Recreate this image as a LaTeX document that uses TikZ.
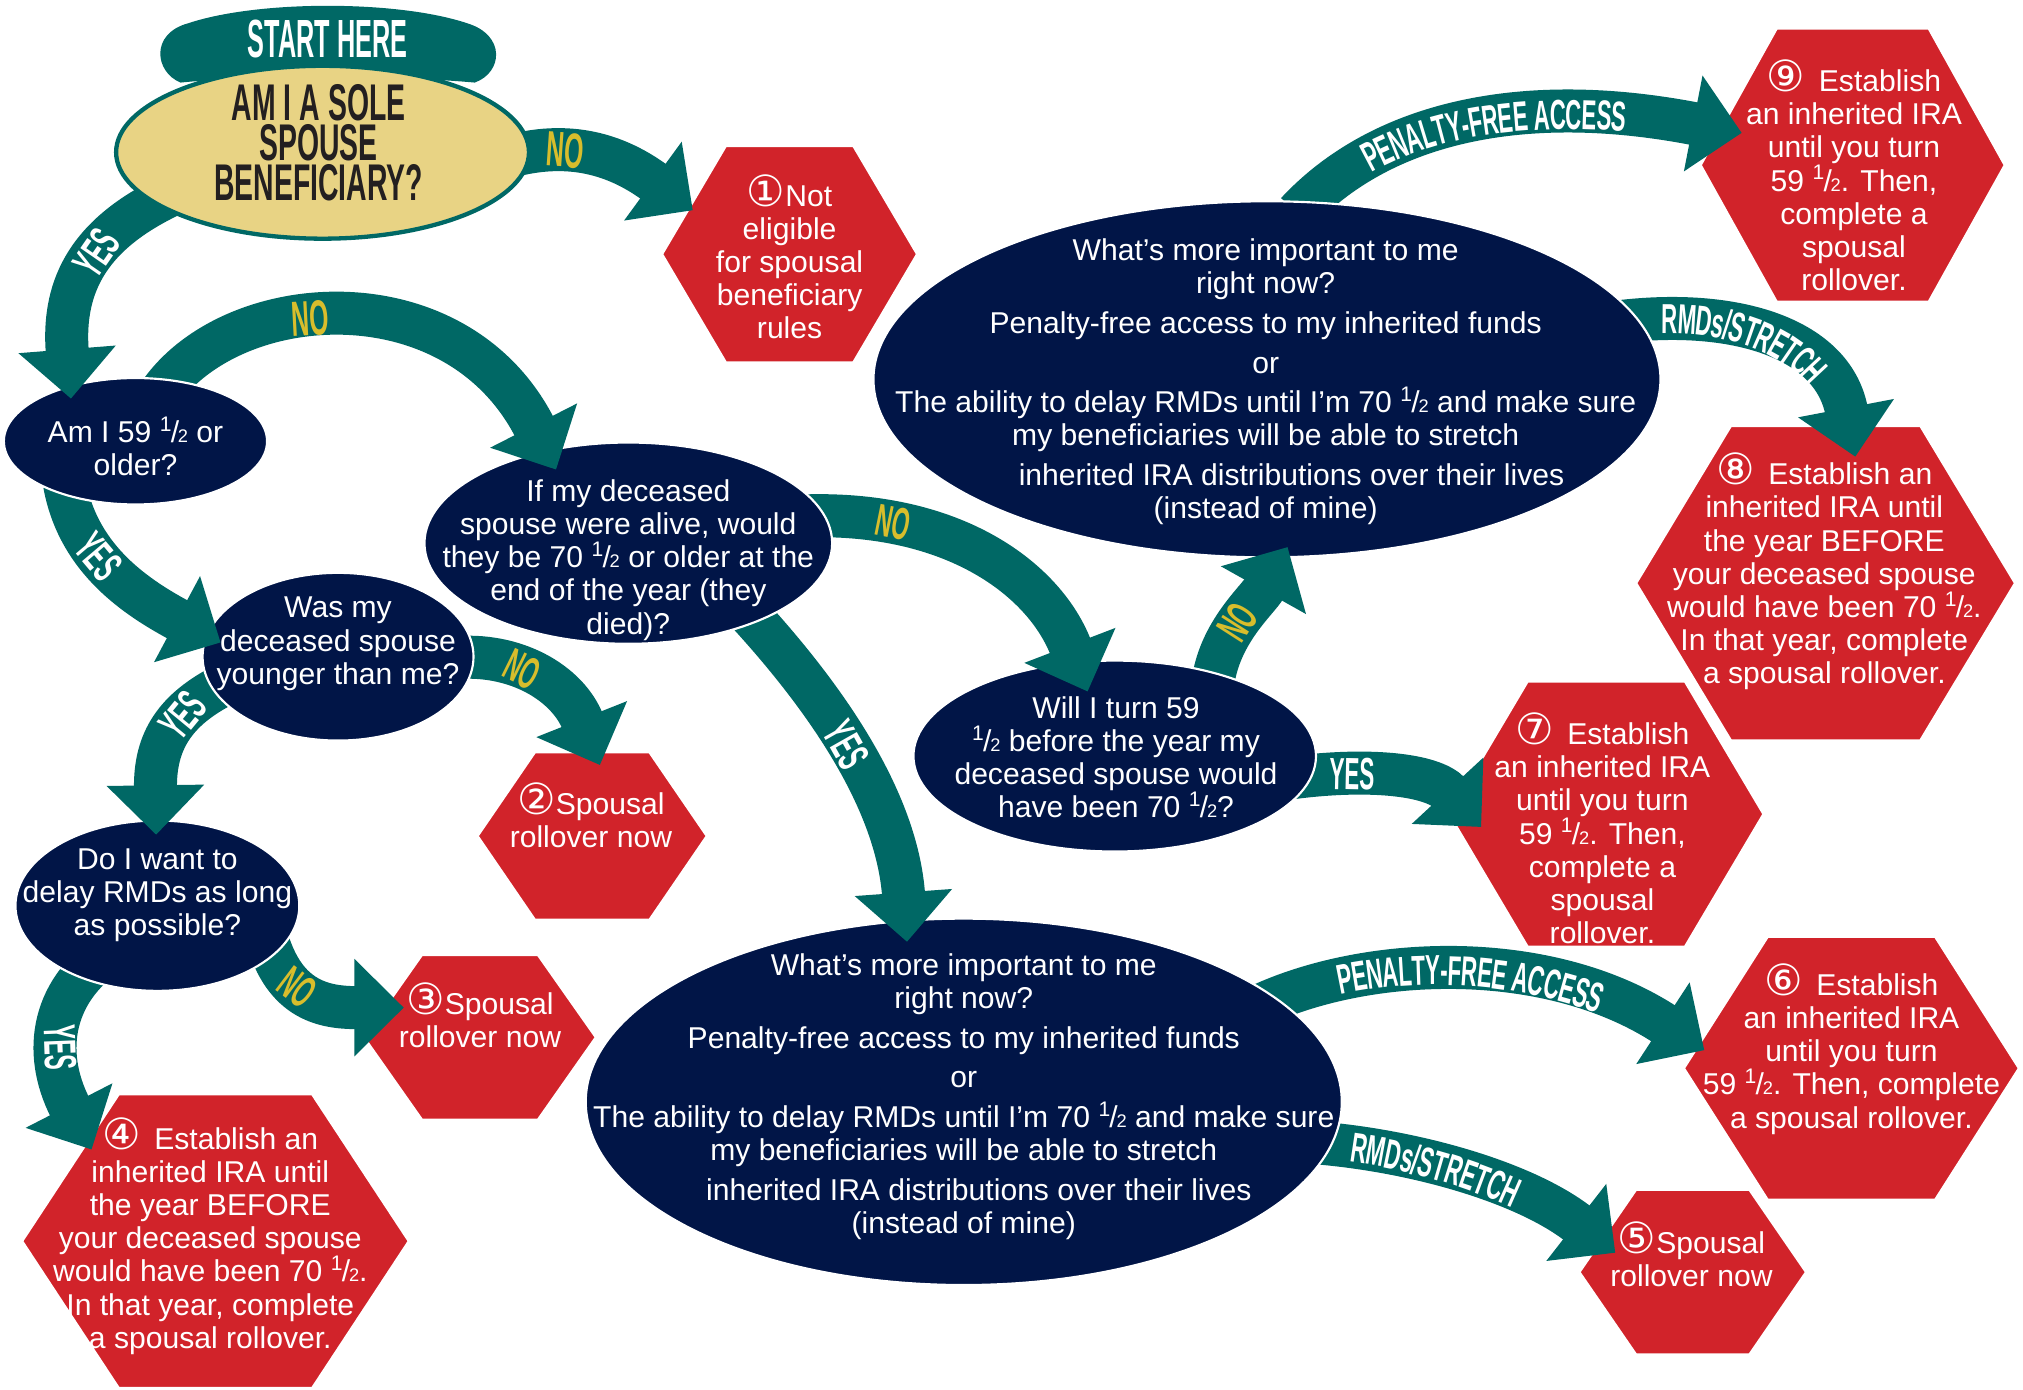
\documentclass[tikz,border=0pt]{standalone}
\usepackage{fontspec}
\setmainfont{Liberation Sans}
\newfontfamily\labfam{Liberation Sans}[FakeStretch=0.5]
\newfontfamily\titlefam{Liberation Sans}[FakeStretch=0.55]
\newfontfamily\pathfam{Liberation Sans}[FakeStretch=0.53]
\newfontfamily\startfam{Liberation Sans}[FakeStretch=0.47]
\newfontfamily\circfam{DejaVu Sans}
\usetikzlibrary{arrows.meta,shapes.geometric,calc,decorations.text}
\definecolor{tealA}{RGB}{0,104,101}
\definecolor{navyA}{RGB}{1,21,71}
\definecolor{redA}{RGB}{209,35,42}
\definecolor{sandA}{RGB}{232,211,132}
\definecolor{goldA}{RGB}{216,189,44}
\definecolor{inkA}{RGB}{35,31,32}
\newcommand\hf{\textsuperscript{1}\kern-.06em/\kern-.04em{\fontsize{8.5}{8.5}\selectfont 2}}
\newcommand\cnum[1]{{\circfam\fontsize{20}{15}\selectfont #1}}
\newcommand\pathlab{\pathfam\bfseries\fontsize{19.5}{19.5}\selectfont\color{white}}
\newcommand\hexa[5]{%
  \coordinate (#1) at (#2,#3);
  \filldraw[hexs] (#2-#4,#3) -- (#2-#4/2,#3-#5) -- (#2+#4/2,#3-#5) -- (#2+#4,#3) -- (#2+#4/2,#3+#5) -- (#2-#4/2,#3+#5) -- cycle;}
\pgfdeclarelayer{bg}
\pgfdeclarelayer{l5}
\pgfdeclarelayer{a45}
\pgfdeclarelayer{l4}
\pgfdeclarelayer{a34}
\pgfdeclarelayer{l3}
\pgfdeclarelayer{a23}
\pgfdeclarelayer{l2}
\pgfdeclarelayer{a12}
\pgfdeclarelayer{l1}
\pgfdeclarelayer{a01}
\pgfsetlayers{bg,l5,a45,l4,a34,l3,a23,l2,a12,l1,a01,main}
\tikzset{
  hexs/.style={fill=redA, draw=white, line width=1.2pt},
  qell/.style 2 args={ellipse, fill=navyA, draw=white, line width=1pt, inner sep=0pt,
    minimum width=#1*1.2pt, minimum height=#2*1.2pt},
  txt/.style={text=white, align=center, inner sep=0pt, font=\fontsize{14}{15.45}\selectfont},
  arr/.style={draw=tealA, line width=20pt, -{Triangle[width=44pt,length=23pt]}},
  yeslab/.style={sloped, inner sep=0pt, text=white, font=\labfam\bfseries\fontsize{21}{21}\selectfont},
  nolab/.style={sloped, inner sep=0pt, text=goldA, font=\labfam\bfseries\fontsize{21}{21}\selectfont},
  biglab/.style={font=\labfam\bfseries\fontsize{23}{23}\selectfont},
  pathtxt/.style 2 args={decorate, decoration={text along path, text={|\pathlab|#1},
    text align={center, right indent=#2}, raise=-7pt}},
}
\begin{document}
\begin{tikzpicture}[x=0.6pt, y=-0.6pt]
\useasboundingbox (0,0) rectangle (1568,1077);
\begin{pgfonlayer}{bg}
  \fill[white] (0,0) rectangle (1568,1077);
\end{pgfonlayer}

% ---------------- depth 5
\begin{pgfonlayer}{l5}
  \hexa{h9}{1436}{128}{118}{106}
  \node[txt] (h9t) at (1437,136) {\cnum{⑨}\ \,Establish\\an inherited IRA\\until you turn\\59 \hf. Then,\\complete a\\spousal\\rollover.};
  \hexa{h8}{1415}{452}{147}{122}
  \node[txt] (h8t) at (1414,443) {\cnum{⑧}\ \,Establish an\\inherited IRA until\\the year BEFORE\\your deceased spouse\\would have been 70 \hf.\\In that year, complete\\a spousal rollover.};
\end{pgfonlayer}

% ---------------- depth 4
\begin{pgfonlayer}{l4}
  \node[qell={305}{138}] (qtop) at (982,294) {};
  \node[txt] (qtopt) at (981,296) {What’s more important to me\\right now?\\[3pt]Penalty-free access to my inherited funds\\[3pt]or\\[3pt]The ability to delay RMDs until I’m 70 \hf{} and make sure\\my beneficiaries will be able to stretch\\[3pt]\hspace*{24pt}inherited IRA distributions over their lives\\(instead of mine)};
  \hexa{h7}{1245}{631}{122}{103}
  \node[txt] (h7t) at (1242,642) {\cnum{⑦}\ \,Establish\\an inherited IRA\\until you turn\\59 \hf. Then,\\complete a\\spousal\\rollover.};
  \hexa{h6}{1435}{828}{130}{102}
  \node[txt] (h6t) at (1435,813) {\cnum{⑥}\ \,Establish\\an inherited IRA\\until you turn\\59 \hf. Then, complete\\a spousal rollover.};
  \hexa{h5}{1312}{986}{88}{64}
  \node[txt] (h5t) at (1311,972) {\cnum{⑤}Spousal\\rollover now};
  \hexa{h3}{372}{804}{90}{64}
  \node[txt] (h3t) at (372,787) {\cnum{③}Spousal\\rollover now};
  \hexa{h4}{167}{962}{150}{114}
  \node[txt] (h4t) at (163,958) {\cnum{④}\ \,Establish an\\inherited IRA until\\the year BEFORE\\your deceased spouse\\would have been 70 \hf.\\In that year, complete\\a spousal rollover.};
\end{pgfonlayer}

% ---------------- depth 3
\begin{pgfonlayer}{l3}
  \node[qell={156}{74}] (will) at (864,586) {};
  \node[txt] (willt) at (865,587) {Will I turn 59\\\hf{} before the year my\\deceased spouse would\\have been 70 \hf?};
  \node[qell={293}{142}] (bot) at (747,854) {};
  \node[txt] (bott) at (747,850) {What’s more important to me\\right now?\\[3pt]Penalty-free access to my inherited funds\\[3pt]or\\[3pt]The ability to delay RMDs until I’m 70 \hf{} and make sure\\my beneficiaries will be able to stretch\\[3pt]\hspace*{14pt}inherited IRA distributions over their lives\\(instead of mine)};
  \node[qell={110}{66}] (doi) at (122,702) {};
  \node[txt] (doit) at (122,694) {Do I want to\\delay RMDs as long\\as possible?};
  \hexa{h2}{459}{648}{89}{65}
  \node[txt] (h2t) at (458,632) {\cnum{②}Spousal\\rollover now};
\end{pgfonlayer}

% ---------------- depth 2
\begin{pgfonlayer}{l2}
  \node[qell={158}{78}] (ifmy) at (487,421) {};
  \node[txt] (ifmyt) at (487,434) {If my deceased\\spouse were alive, would\\they be 70 \hf{} or older at the\\end of the year (they\\died)?};
  \node[qell={105}{65}] (was) at (262,509) {};
  \node[txt] (wast) at (262,499) {Was my\\deceased spouse\\younger than me?};
\end{pgfonlayer}

% ---------------- depth 1
\begin{pgfonlayer}{l1}
  \node[qell={102}{49}] (am) at (105,342) {};
  \node[txt] (amt) at (105,346) {Am I 59 \hf{} or\\older?};
  \hexa{h1}{612}{197}{99}{84}
  \node[txt] (h1t) at (612,199) {\cnum{①}Not\\eligible\\for spousal\\beneficiary\\rules};
\end{pgfonlayer}

% ---------------- depth 0
\fill[tealA] (140,64) .. controls (120,56) and (116,26) .. (146,18) .. controls (200,0) and (308,0) .. (362,18) .. controls (392,27) and (390,56) .. (368,64) .. controls (300,58) and (200,58) .. (140,64) -- cycle;
\node[text=white, inner sep=0pt, font=\startfam\bfseries\fontsize{25}{25}\selectfont] (start) at (254,30) {START HERE};
\node[ellipse, fill=sandA, draw=tealA, line width=2pt, inner sep=0pt, minimum width=192pt, minimum height=80.4pt] (yel) at (250,118) {};
\node[text=inkA, align=center, inner sep=0pt, font=\titlefam\bfseries\fontsize{24}{18.6}\selectfont] (yelt) at (247,111) {AM I A SOLE\\SPOUSE\\BENEFICIARY?};

% ---------------- arrows 0 -> 1
\begin{pgfonlayer}{a01}
  \draw[arr] ($(yel.center)+(150,2)$) .. controls (450,108) and (485,125) .. ($(h1)+(-75,-34)$) node[nolab,biglab,pos=.27]{NO};
  \draw[arr] ($(yel.center)+(-115,32)$) .. controls (70,180) and (48,220) .. ($(am.center)+(-50,-33)$) node[yeslab,pos=.42]{YES};
\end{pgfonlayer}

% ---------------- arrows 1 -> 2
\begin{pgfonlayer}{a12}
  \draw[arr] ($(am.center)+(10,-22)$) .. controls (160,225) and (350,205) .. ($(ifmy.center)+(-56,-57)$) node[nolab,biglab,pos=.45]{NO};
  \draw[arr] ($(am.center)+(-55,33)$) .. controls (60,430) and (100,460) .. ($(was.center)+(-91,-11)$) node[yeslab,pos=.4]{YES};
\end{pgfonlayer}

% ---------------- arrows 2 -> 3
\begin{pgfonlayer}{a23}
  \draw[arr] ($(ifmy.center)+(133,-21)$) .. controls (740,395) and (810,450) .. ($(will.center)+(-21,-50)$) node[nolab,pos=.22]{NO};
  \draw[arr] ($(ifmy.center)+(88,49)$) .. controls (640,540) and (695,620) .. ($(bot.center)+(-44,-124)$) node[yeslab,pos=.47]{YES};
  \draw[arr] ($(was.center)+(-87,21)$) .. controls (135,550) and (120,575) .. ($(doi.center)+(-1,-55)$) node[yeslab,pos=.35]{YES};
  \draw[arr] ($(was.center)+(88,1)$) .. controls (400,505) and (440,530) .. ($(h2)+(6,-55)$) node[nolab,pos=.4]{NO};
\end{pgfonlayer}

% ---------------- arrows 3 -> 4
\begin{pgfonlayer}{a34}
  \draw[arr] ($(will.center)+(76,-56)$) .. controls (945,490) and (975,465) .. ($(qtop.center)+(16,130)$) node[nolab,pos=.45]{NO};
  \draw[arr] ($(will.center)+(136,17)$) .. controls (1060,595) and (1110,600) .. ($(h7)+(-97,10)$) node[yeslab,pos=.28]{YES};
  \draw[arr] ($(bot.center)+(228,-74)$) .. controls (1060,740) and (1200,735) .. ($(h6)+(-114,-14)$);
  \path[pathtxt={PENALTY-FREE ACCESS}{14pt}] ($(bot.center)+(228,-74)$) .. controls (1060,740) and (1200,735) .. ($(h6)+(-114,-14)$);
  \draw[arr] ($(bot.center)+(263,31)$) .. controls (1090,890) and (1180,915) .. ($(h5)+(-60,-15)$);
  \path[pathtxt={RMDs/STRETCH}{30pt}] ($(bot.center)+(263,31)$) .. controls (1090,890) and (1180,915) .. ($(h5)+(-60,-15)$);
  \draw[arr] ($(doi.center)+(-32,33)$) .. controls (40,765) and (32,815) .. ($(h4)+(-96,-71)$) node[yeslab,pos=.6]{YES};
  \draw[arr] ($(doi.center)+(83,18)$) .. controls (218,775) and (250,781) .. ($(h3)+(-59,-23)$) node[nolab,pos=.4]{NO};
\end{pgfonlayer}

% ---------------- arrows 4 -> 5
\begin{pgfonlayer}{a45}
  \draw[arr] ($(qtop.center)+(23,-129)$) .. controls (1070,95) and (1180,70) .. ($(h9)+(-86,-25)$);
  \path[pathtxt={PENALTY-FREE ACCESS}{14pt}] ($(qtop.center)+(23,-129)$) .. controls (1070,95) and (1180,70) .. ($(h9)+(-86,-25)$);
  \draw[arr] ($(qtop.center)+(268,-44)$) .. controls (1340,238) and (1420,260) .. ($(h8)+(23,-98)$);
  \path[pathtxt={RMDs/STRETCH}{18pt}] ($(qtop.center)+(268,-44)$) .. controls (1340,238) and (1420,260) .. ($(h8)+(23,-98)$);
\end{pgfonlayer}
\end{tikzpicture}
\end{document}
